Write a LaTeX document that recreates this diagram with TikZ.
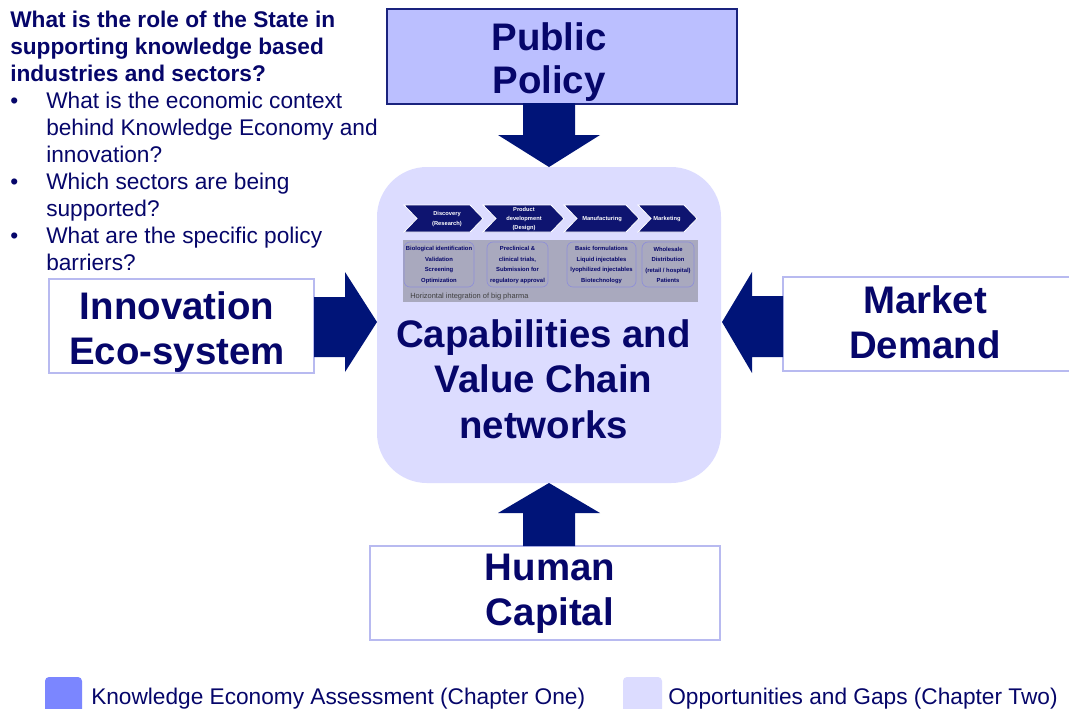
\documentclass[tikz,border=0pt]{standalone}
\usepackage{fontspec}
\setmainfont{Liberation Sans}
\definecolor{navy}{HTML}{001478}
\definecolor{txtc}{HTML}{06066A}
\definecolor{chevc}{HTML}{0E1470}
\definecolor{ppfill}{HTML}{BBBFFF}
\definecolor{ppdraw}{HTML}{1A237E}
\definecolor{cenfill}{HTML}{DCDCFF}
\definecolor{lav}{HTML}{B8BAF0}
\definecolor{bandc}{HTML}{A9A9BE}
\definecolor{innerdraw}{HTML}{8E8ED8}
\definecolor{leg1}{HTML}{7B86FF}
\begin{document}
\begin{tikzpicture}[x=0.75pt,y=-0.75pt,
  bigtext/.style={font=\bfseries\fontsize{28.8}{34.1}\selectfont, text=txtc, align=center, inner sep=0pt, anchor=north},
  whitebox/.style={draw=lav, fill=white, line width=1.1pt},
  blockarrow/.style={fill=navy, draw=none},
  chevron/.style={fill=chevc, draw=white, line width=0.6pt},
  chevtext/.style={font=\bfseries\fontsize{4.3}{6.8}\selectfont, text=white, align=center, inner sep=0pt},
  innerbox/.style={draw=innerdraw, line width=0.5pt, rounded corners=4.5pt},
  innertext/.style={font=\bfseries\fontsize{4.4}{7.9}\selectfont, text=txtc, align=center, inner sep=0pt},
  legtext/.style={font=\fontsize{17}{20.25}\selectfont, text=txtc, inner sep=0pt, anchor=base west},
  legbox/.style={draw=none, rounded corners=3pt}]
\useasboundingbox (0,0) rectangle (1069,708);
\fill[white] (0,0) rectangle (1069,708);

% central rounded area
\filldraw[fill=cenfill, draw=none, rounded corners=37.5pt] (377,167) rectangle (721,483);
\coordinate (cen) at (549,325);

% boxes
\filldraw[fill=ppfill, draw=ppdraw, line width=1.1pt] (387,9) rectangle (737,104);
\filldraw[whitebox] (49,279) rectangle (314,373);
\filldraw[whitebox] (783,277) rectangle (1085,371);
\filldraw[whitebox] (370,546) rectangle (720,640);

% block arrows
\fill[blockarrow] (523,103) -- (575,103) -- (575,135) -- (600,135) -- (549,167) -- (498,135) -- (523,135) -- cycle;
\fill[blockarrow] (549,483) -- (600,513) -- (575,513) -- (575,546) -- (523,546) -- (523,513) -- (498,513) -- cycle;
\fill[blockarrow] (314,297) -- (345,297) -- (345,272) -- (377,322) -- (345,372) -- (345,357) -- (314,357) -- cycle;
\fill[blockarrow] (722,322) -- (752,272) -- (752,296) -- (783,296) -- (783,357) -- (752,357) -- (752,373) -- cycle;

% big texts
\node[bigtext, font=\bfseries\fontsize{28.8}{32.5}\selectfont] (pp) at (549,22) {Public\\Policy};
\node[bigtext] (cap) at (543.5,319) {Capabilities and\\Value Chain\\networks};
\node[bigtext] (ie) at (177,291) {Innovation\\Eco-system};
\node[bigtext, font=\bfseries\fontsize{28.8}{33.75}\selectfont] (md) at (925,285) {Market\\Demand};
\node[bigtext, font=\bfseries\fontsize{28.8}{33.75}\selectfont] (hc) at (550,554) {Human\\Capital};

% value chain picture
\fill[bandc] (403,240) rectangle (698,302);
\filldraw[chevron] (404,205) -- (470,205) -- (483,218.5) -- (470,232) -- (404,232) -- (417,218.5) -- cycle;
\filldraw[chevron] (483,205) -- (551,205) -- (564,218.5) -- (551,232) -- (483,232) -- (496,218.5) -- cycle;
\filldraw[chevron] (564,205) -- (626,205) -- (639,218.5) -- (626,232) -- (564,232) -- (577,218.5) -- cycle;
\filldraw[chevron] (638,205) -- (684,205) -- (697,218.5) -- (684,232) -- (638,232) -- (651,218.5) -- cycle;
\node[chevtext, font=\bfseries\fontsize{4.3}{7.9}\selectfont] (c1) at (447,219) {Discovery\\(Research)};
\node[chevtext] (c2) at (524,219) {Product\\development\\(Design)};
\node[chevtext] (c3) at (602,219) {Manufacturing};
\node[chevtext] (c4) at (667,219) {Marketing};

\draw[innerbox] (404,242) rectangle (474,287);
\draw[innerbox] (487,242) rectangle (548,287);
\draw[innerbox] (567,242) rectangle (636,287);
\draw[innerbox] (642,242) rectangle (694,287);
\node[innertext] (b1) at (439,265) {Biological identification\\Validation\\Screening\\Optimization};
\node[innertext] (b2) at (517.5,265) {Preclinical \&\\clinical trials,\\Submission for\\regulatory approval};
\node[innertext] (b3) at (601.5,265) {Basic formulations\\Liquid injectables\\lyophilized injectables\\Biotechnology};
\node[innertext] (b4) at (668,265) {Wholesale\\Distribution\\(retail / hospital)\\Patients};
\node[font=\fontsize{5.6}{6.5}\selectfont, text=black!75, inner sep=0pt, anchor=west] (hz) at (410,297) {Horizontal integration of big pharma};

% top-left questions
\node[font=\fontsize{17}{20.25}\selectfont, text=txtc, align=left, inner sep=0pt, anchor=north west] (q) at (10,10.5)
{\textbf{What is the role of the State in}\\
 \textbf{supporting knowledge based}\\
 \textbf{industries and sectors?}\\
 \makebox[27pt][l]{\textbullet}What is the economic context\\
 \hspace*{27pt}behind Knowledge Economy and\\
 \hspace*{27pt}innovation?\\
 \makebox[27pt][l]{\textbullet}Which sectors are being\\
 \hspace*{27pt}supported?\\
 \makebox[27pt][l]{\textbullet}What are the specific policy\\
 \hspace*{27pt}barriers?};

% legend
\fill[leg1, legbox] (45,677) rectangle (82,716);
\fill[cenfill, legbox] (623,677) rectangle (662,716);
\node[legtext] (l1) at (91,704) {Knowledge Economy Assessment (Chapter One)};
\node[legtext] (l2) at (668,704) {Opportunities and Gaps (Chapter Two)};
\end{tikzpicture}
\end{document}
